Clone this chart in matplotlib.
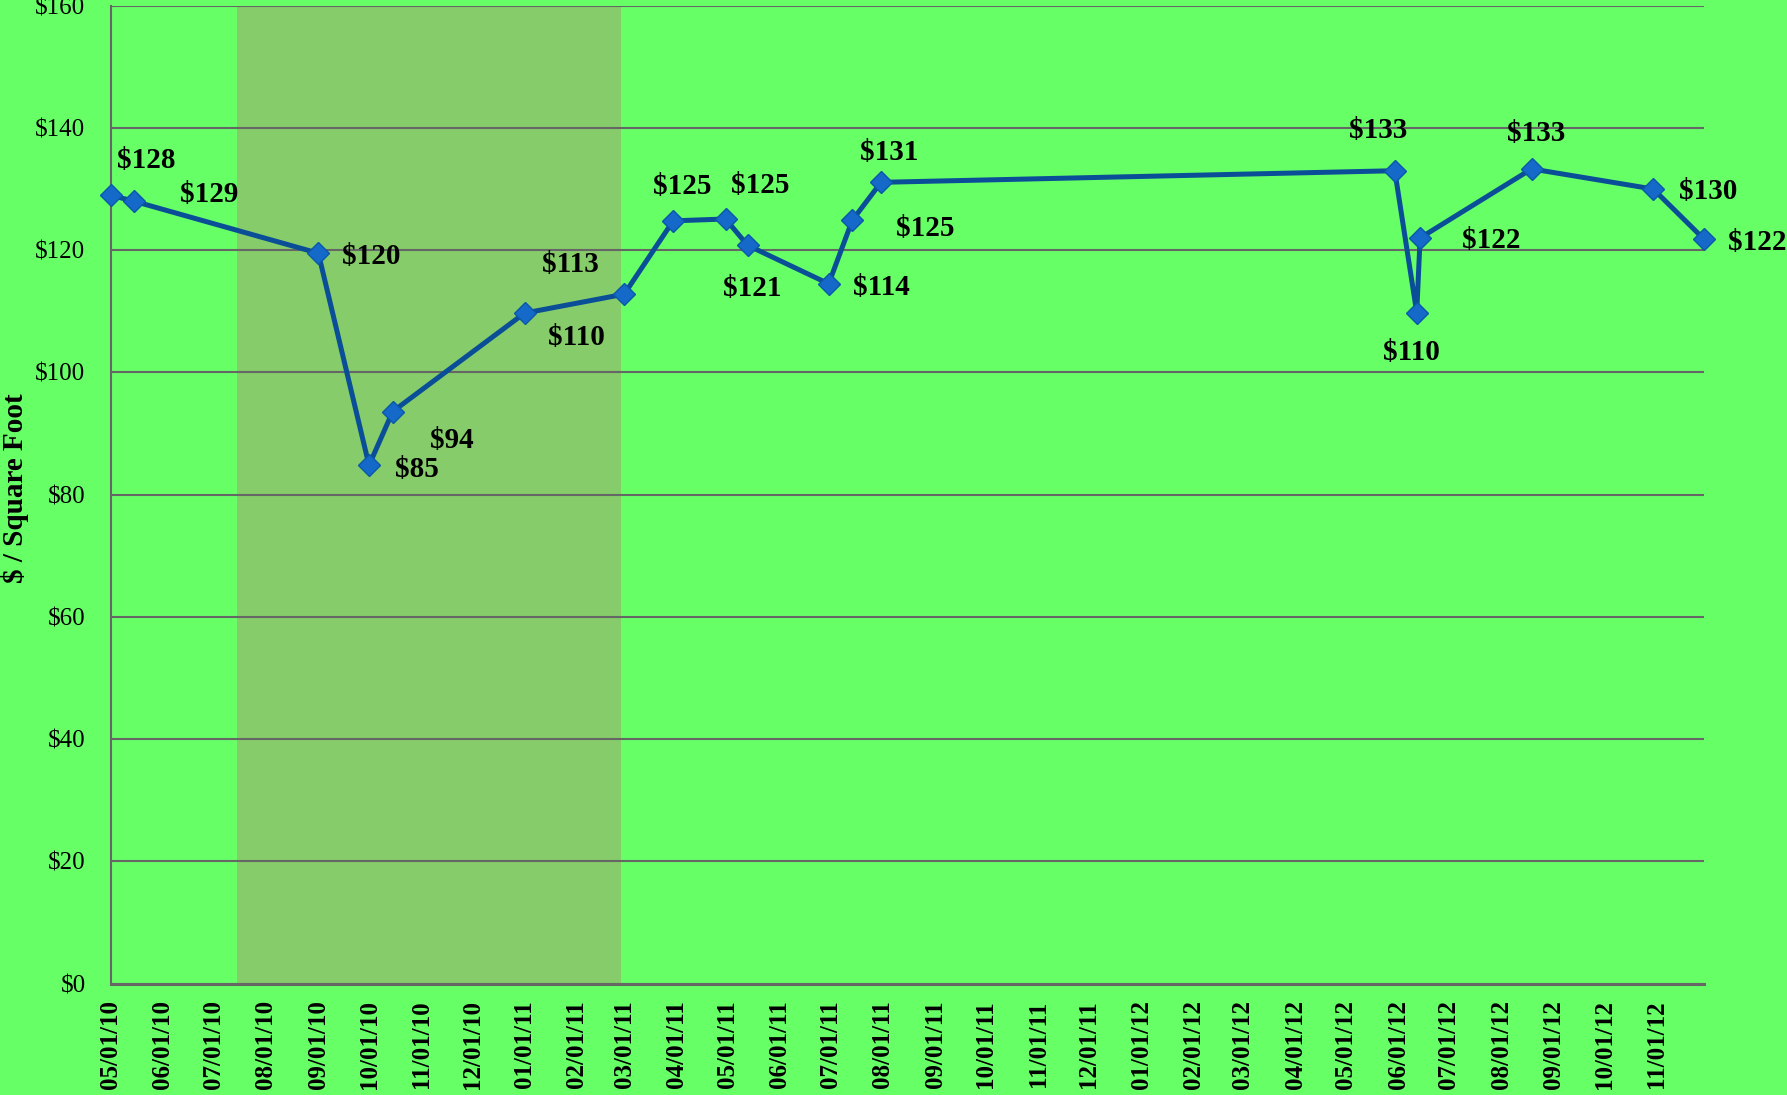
import matplotlib
matplotlib.use("Agg")
import matplotlib.pyplot as plt
import pandas as pd

# ---- data ----
dates = ["2010-05-01", "2010-05-15", "2010-09-01", "2010-10-01", "2010-10-15",
         "2011-01-01", "2011-03-01", "2011-03-30", "2011-04-30", "2011-05-13",
         "2011-06-30", "2011-07-14", "2011-07-31", "2012-05-30", "2012-06-12",
         "2012-06-14", "2012-08-19", "2012-10-30", "2012-11-29"]
prices = [129.0, 128.0, 119.5, 84.8, 93.6, 109.7, 112.8, 124.8, 125.1, 120.8,
          114.5, 124.9, 131.1, 133.0, 109.8, 122.0, 133.3, 130.0, 121.8]
point_labels = ["$128", "$129", "$120", "$85", "$94", "$110", "$113", "$125", "$125",
                "$121", "$114", "$125", "$131", "$133", "$110", "$122", "$133",
                "$130", "$122"]
shade_start, shade_end = "2010-07-15", "2011-02-27"
tick_start, tick_end = "2010-05-01", "2012-11-01"
y_ticks = [0, 20, 40, 60, 80, 100, 120, 140, 160]

# label offsets (pixels, right / down) -- styling only
label_offsets = [(31, -30), (66, -6), (46, 3), (42, 4), (52, 25), (46, 21), (-47, -26),
                 (8, -30), (30, -29), (4, 38), (46, 3), (64, 7), (7, -26), (-15, -35),
                 (-5, 35), (62, 2), (4, -31), (48, 2), (47, 3)]

BG = "#66FF66"
SHADE = "#86CC6A"
LINE = "#0A4E98"
MARK = "#1469C9"
GRID = "#666666"
FONT = "Liberation Serif"

x = pd.to_datetime(dates)

fig = plt.figure(figsize=(17.87, 10.95), dpi=100, facecolor=BG)
ax = fig.add_axes([110.5 / 1787, 1 - 983.6 / 1095, (1704 - 110.5) / 1787, (983.6 - 5.7) / 1095])
ax.set_facecolor(BG)

ax.axvspan(pd.Timestamp(shade_start), pd.Timestamp(shade_end), color=SHADE, zorder=0.2, lw=0)

ax.plot(x, prices, color=LINE, lw=3.6, marker="D", markersize=11.5,
        markerfacecolor=MARK, markeredgecolor="#0B58A8", markeredgewidth=1.0,
        zorder=3, clip_on=False)

s = 1787 / 1568
for xi, yi, lab, (dx, dy) in zip(x, prices, point_labels, label_offsets):
    ax.annotate(lab, (xi, yi), xytext=(dx * s, -dy * s), textcoords="offset pixels",
                ha="center", va="center", fontsize=21, fontweight="bold",
                family=FONT, color="black", zorder=4, annotation_clip=False)

ax.set_xlim(pd.Timestamp(dates[0]), pd.Timestamp(dates[-1]))
ax.set_ylim(0, 160)
ax.set_yticks(y_ticks)
ax.set_yticklabels([f"${v}" for v in y_ticks], family=FONT, fontsize=18)

ticks = pd.date_range(tick_start, tick_end, freq="MS")
ax.set_xticks(ticks)
ax.set_xticklabels([t.strftime("%m/%d/%y") for t in ticks], rotation=90,
                   family=FONT, fontsize=18, fontweight="bold")
ax.tick_params(axis="x", length=0, pad=12)
ax.tick_params(axis="y", length=0, pad=18)

ax.set_axisbelow(True)
ax.grid(axis="y", color=GRID, lw=1.5)
ax.grid(axis="x", visible=False)
for sp in ["top", "right"]:
    ax.spines[sp].set_visible(False)
ax.spines["left"].set_color(GRID)
ax.spines["left"].set_linewidth(1.5)
ax.spines["bottom"].set_color(GRID)
ax.spines["bottom"].set_linewidth(2.2)

fig.text(15 / 1787, 1 - 488 / 1095, "$ / Square Foot", rotation=90, ha="center",
         va="center", fontsize=21, fontweight="bold", family=FONT)

fig.savefig("out.png", dpi=100, facecolor=BG)
